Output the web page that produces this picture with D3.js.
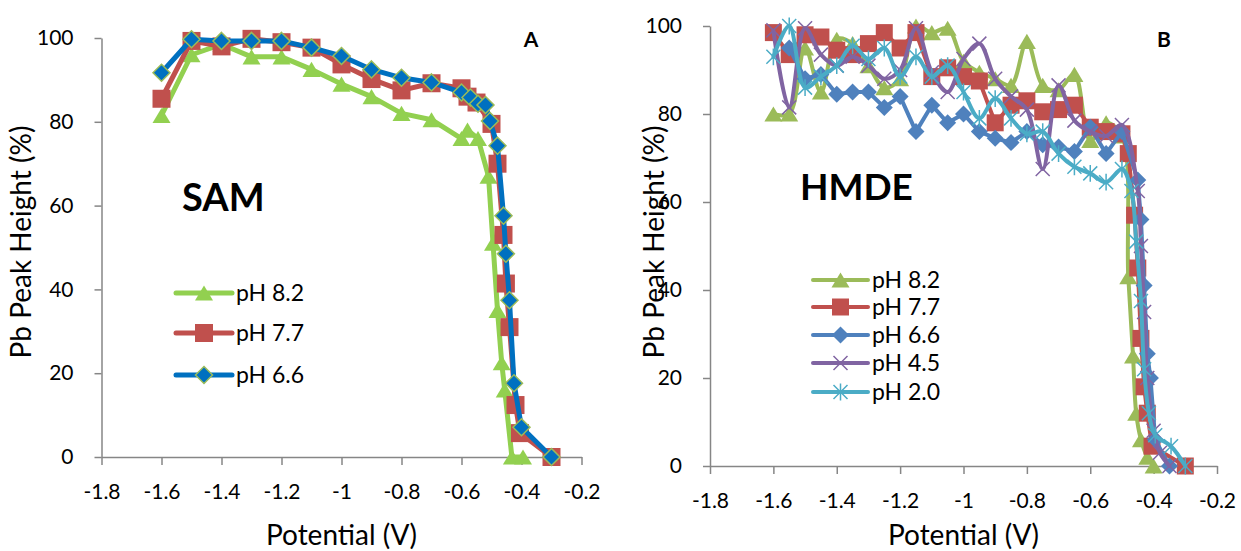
<!DOCTYPE html>
<html>
<head>
<meta charset="utf-8">
<script src="https://cdn.jsdelivr.net/npm/d3@7"></script>
<style>
  html, body { margin: 0; padding: 0; background: #ffffff; }
  svg { display: block; }
  text { font-family: Lato, "Open Sans", sans-serif; fill: #000; }
</style>
</head>
<body>
<svg id="chart" width="1241" height="551"></svg>
<script>
// ---------- Axis ticks ----------
const xTickValues = [-1.8, -1.6, -1.4, -1.2, -1.0, -0.8, -0.6, -0.4, -0.2];
const xTickLabels = ["-1.8", "-1.6", "-1.4", "-1.2", "-1", "-0.8", "-0.6", "-0.4", "-0.2"];
const yTickValues = [0, 20, 40, 60, 80, 100];

// ---------- Panel A: SAM ----------
const aV82 = [-1.6, -1.5, -1.4, -1.3, -1.2, -1.1, -1.0, -0.9, -0.8, -0.7, -0.6, -0.58, -0.545, -0.51, -0.495, -0.48, -0.466, -0.456, -0.432, -0.395];
const aP82 = [81.5, 96, 98.5, 95.5, 95.5, 92.5, 89, 86, 82, 80.5, 76, 78, 76, 67, 51, 35, 22.5, 16, 0, 0];

const aV77 = [-1.6, -1.5, -1.4, -1.3, -1.2, -1.1, -1.0, -0.9, -0.8, -0.7, -0.6, -0.58, -0.55, -0.5, -0.48, -0.46, -0.452, -0.44, -0.42, -0.405, -0.3];
const aP77 = [85.5, 99.3, 98, 99.8, 99, 97.7, 93.7, 90.2, 87.5, 89.2, 88, 86, 84.6, 79.5, 70, 53, 41.4, 31, 12.4, 5.7, 0];

const aV66 = [-1.6, -1.5, -1.4, -1.3, -1.2, -1.1, -1.0, -0.9, -0.8, -0.7, -0.6, -0.57, -0.545, -0.52, -0.505, -0.48, -0.46, -0.452, -0.44, -0.425, -0.4, -0.3];
const aP66 = [91.7, 99.7, 99.3, 99.3, 99.3, 97.7, 95.7, 92.5, 90.5, 89.4, 87, 85.8, 84.3, 84, 80.2, 74.3, 57.6, 48.5, 37.4, 17.6, 7.1, 0];

// ---------- Panel B: HMDE ----------
const bV82 = [-1.6, -1.55, -1.5, -1.45, -1.4, -1.35, -1.3, -1.25, -1.2, -1.15, -1.1, -1.05, -1.0, -0.95, -0.9, -0.85, -0.8, -0.75, -0.7, -0.65, -0.6, -0.55, -0.5, -0.48, -0.465, -0.455, -0.44, -0.42, -0.4];
const bP82 = [80, 80, 95, 85, 97, 96, 91, 86, 88, 100, 98.5, 99.5, 92, 89.5, 88, 86.5, 96.5, 86.5, 85.5, 89, 74, 78, 75, 43, 25, 12, 6, 2, 0];

const bV77 = [-1.6, -1.55, -1.5, -1.45, -1.4, -1.35, -1.3, -1.25, -1.2, -1.15, -1.1, -1.05, -1.0, -0.95, -0.9, -0.85, -0.8, -0.75, -0.7, -0.65, -0.6, -0.55, -0.5, -0.48, -0.46, -0.45, -0.44, -0.43, -0.42, -0.405, -0.3];
const bP77 = [98.5, 93.5, 98, 97.5, 94.5, 93.5, 96, 98.5, 95, 98.5, 88.5, 90.5, 88.5, 87.5, 78, 82, 83, 80.5, 81, 82, 77, 76, 75.5, 71, 57, 45, 29, 18, 12, 4.5, 0];

const bV66 = [-1.55, -1.5, -1.45, -1.4, -1.35, -1.3, -1.25, -1.2, -1.15, -1.1, -1.05, -1.0, -0.95, -0.9, -0.85, -0.8, -0.75, -0.7, -0.65, -0.6, -0.55, -0.5, -0.45, -0.44, -0.43, -0.42, -0.41, -0.395, -0.35];
const bP66 = [95, 88, 89, 84.5, 85, 85, 81.5, 84, 76, 82, 78, 80, 76, 74.5, 73.5, 76, 73, 72.5, 71.5, 77, 71, 76, 65, 56, 41, 25.5, 20, 6, 0];

const bV45 = [-1.6, -1.55, -1.5, -1.45, -1.4, -1.35, -1.3, -1.25, -1.2, -1.15, -1.1, -1.05, -1.0, -0.95, -0.9, -0.85, -0.8, -0.75, -0.7, -0.65, -0.6, -0.55, -0.5, -0.45, -0.44, -0.43, -0.42, -0.4, -0.38, -0.35];
const bP45 = [99, 81.5, 99.5, 93.5, 91, 93, 91, 88, 90, 99.5, 89.5, 85, 92.5, 96, 88, 84, 81, 67.5, 86.5, 78.5, 76, 75, 77.5, 62.5, 50, 35, 20, 8, 3, 0];

const bV20 = [-1.6, -1.55, -1.5, -1.45, -1.4, -1.35, -1.3, -1.25, -1.2, -1.15, -1.1, -1.05, -1.0, -0.95, -0.9, -0.85, -0.8, -0.75, -0.7, -0.65, -0.6, -0.55, -0.5, -0.47, -0.455, -0.44, -0.43, -0.415, -0.395, -0.345, -0.3];
const bP20 = [93, 100, 86, 88.5, 91, 95.5, 92.5, 95, 88.5, 93, 88.5, 91, 85, 79, 83.5, 79, 75.5, 76, 71, 68, 66.5, 64.5, 67.5, 62.5, 51, 37.5, 22, 12, 7, 4.5, 0];

// ---------- Marker shapes (centred on 0,0) ----------
const shapes = {
  triangle: s => `M0,${-s * 0.42}L${s / 2},${s * 0.42}L${-s / 2},${s * 0.42}Z`,
  square: s => `M${-s / 2},${-s / 2}h${s}v${s}h${-s}Z`,
  diamond: s => `M0,${-s / 2}L${s / 2},0L0,${s / 2}L${-s / 2},0Z`,
  cross: s => `M${-s / 2},${-s / 2}L${s / 2},${s / 2}M${s / 2},${-s / 2}L${-s / 2},${s / 2}`,
  star: s => `M${-s / 2},${-s / 2}L${s / 2},${s / 2}M${s / 2},${-s / 2}L${-s / 2},${s / 2}M0,${-s * 0.6}V${s * 0.6}`
};

const svg = d3.select("#chart");
const axisColor = "#868686";

function zip(vs, ps) { return vs.map((v, i) => ({ v, p: ps[i] })); }

function drawPanel(cfg) {
  const x = d3.scaleLinear().domain([-1.8, -0.2]).range(cfg.xRange);
  const y = d3.scaleLinear().domain([0, 100]).range(cfg.yRange);
  const g = svg.append("g");

  const yAxis = d3.axisLeft(y).tickValues(yTickValues).tickSize(7).tickSizeOuter(0).tickPadding(21)
    .tickFormat(d3.format("d"));
  const xAxis = d3.axisBottom(x).tickValues(xTickValues).tickSize(8).tickSizeOuter(0).tickPadding(19)
    .tickFormat((d, i) => xTickLabels[i]);

  const gy = g.append("g").attr("transform", `translate(${cfg.xRange[0]},0)`).call(yAxis);
  const gx = g.append("g").attr("transform", `translate(0,${cfg.yRange[0]})`).call(xAxis);
  [gx, gy].forEach(a => {
    a.select(".domain").attr("stroke", axisColor).attr("stroke-width", 1.5);
    a.selectAll(".tick line").attr("stroke", axisColor).attr("stroke-width", 1.5);
    a.selectAll(".tick text").attr("font-size", 21).attr("font-family", "Lato").attr("fill", "#000");
  });

  // axis titles
  g.append("text").attr("x", (cfg.xRange[0] + cfg.xRange[1]) / 2).attr("y", 545)
    .attr("text-anchor", "middle").attr("font-size", 28).text("Potential (V)");
  g.append("text").attr("transform", `translate(${cfg.yTitleX},${cfg.yTitleY}) rotate(-90)`)
    .attr("text-anchor", "middle").attr("font-size", 28).text("Pb Peak Height (%)");

  // series
  cfg.series.forEach(s => {
    const data = zip(s.v, s.p);
    const line = d3.line().x(d => x(d.v)).y(d => y(d.p))
      .curve(s.smooth ? d3.curveCatmullRom.alpha(0.5) : d3.curveLinear);
    g.append("path").datum(data).attr("d", line).attr("fill", "none")
      .attr("stroke", s.color).attr("stroke-width", cfg.lineWidth)
      .attr("stroke-linejoin", "round").attr("stroke-linecap", "round");
    g.append("g").selectAll("path").data(data).join("path")
      .attr("transform", d => `translate(${x(d.v)},${y(d.p)})`)
      .attr("d", shapes[s.shape](s.size))
      .attr("fill", s.open ? "none" : s.fill)
      .attr("stroke", s.stroke || "none")
      .attr("stroke-width", s.strokeWidth || 0);
  });

  // legend
  cfg.series.forEach((s, i) => {
    const ly = cfg.legend.y[i];
    const lg = g.append("g");
    lg.append("line").attr("x1", cfg.legend.x1).attr("x2", cfg.legend.x2)
      .attr("y1", ly).attr("y2", ly).attr("stroke", s.color)
      .attr("stroke-width", cfg.lineWidth).attr("stroke-linecap", "round");
    lg.append("path").attr("transform", `translate(${(cfg.legend.x1 + cfg.legend.x2) / 2},${ly})`)
      .attr("d", shapes[s.shape](s.size))
      .attr("fill", s.open ? "none" : s.fill)
      .attr("stroke", s.stroke || "none").attr("stroke-width", s.strokeWidth || 0);
    lg.append("text").attr("x", cfg.legend.x2 + 4).attr("y", ly).attr("dy", "0.36em")
      .attr("font-size", 23).text(s.name);
  });

  // panel captions
  g.append("text").attr("x", cfg.title.x).attr("y", cfg.title.y)
    .attr("font-size", cfg.title.size).attr("font-weight", "bold").text(cfg.title.text);
  g.append("text").attr("x", cfg.letter.x).attr("y", cfg.letter.y).attr("text-anchor", "middle")
    .attr("font-size", 21).attr("font-weight", "bold").text(cfg.letter.text);
}

drawPanel({
  xRange: [101.5, 581.5],
  yRange: [457, 38],
  yTitleX: 31, yTitleY: 242,
  lineWidth: 5,
  series: [
    { name: "pH 8.2", v: aV82, p: aP82, color: "#92D050", fill: "#92D050", shape: "triangle", size: 18 },
    { name: "pH 7.7", v: aV77, p: aP77, color: "#C0504D", fill: "#C0504D", shape: "square", size: 18 },
    { name: "pH 6.6", v: aV66, p: aP66, color: "#0070C0", fill: "#0070C0", shape: "diamond", size: 17, stroke: "#9BBB59", strokeWidth: 1.5 }
  ],
  legend: { x1: 176, x2: 232, y: [293, 333, 375] },
  title: { text: "SAM", x: 182, y: 211, size: 38 },
  letter: { text: "A", x: 531, y: 47 }
});

drawPanel({
  xRange: [710, 1217],
  yRange: [466, 26],
  yTitleX: 664, yTitleY: 242,
  lineWidth: 4,
  series: [
    { name: "pH 8.2", v: bV82, p: bP82, color: "#9BBB59", fill: "#9BBB59", shape: "triangle", size: 18, smooth: true },
    { name: "pH 7.7", v: bV77, p: bP77, color: "#C0504D", fill: "#C0504D", shape: "square", size: 17 },
    { name: "pH 6.6", v: bV66, p: bP66, color: "#4F81BD", fill: "#4F81BD", shape: "diamond", size: 17 },
    { name: "pH 4.5", v: bV45, p: bP45, color: "#8064A2", fill: "#8064A2", shape: "cross", size: 14, open: true, stroke: "#8064A2", strokeWidth: 1.5, smooth: true },
    { name: "pH 2.0", v: bV20, p: bP20, color: "#4BACC6", fill: "#4BACC6", shape: "star", size: 14, open: true, stroke: "#4BACC6", strokeWidth: 1.5, smooth: true }
  ],
  legend: { x1: 813, x2: 868, y: [280, 307, 335, 363, 392] },
  title: { text: "HMDE", x: 800, y: 200, size: 37 },
  letter: { text: "B", x: 1164, y: 47 }
});
</script>
</body>
</html>
